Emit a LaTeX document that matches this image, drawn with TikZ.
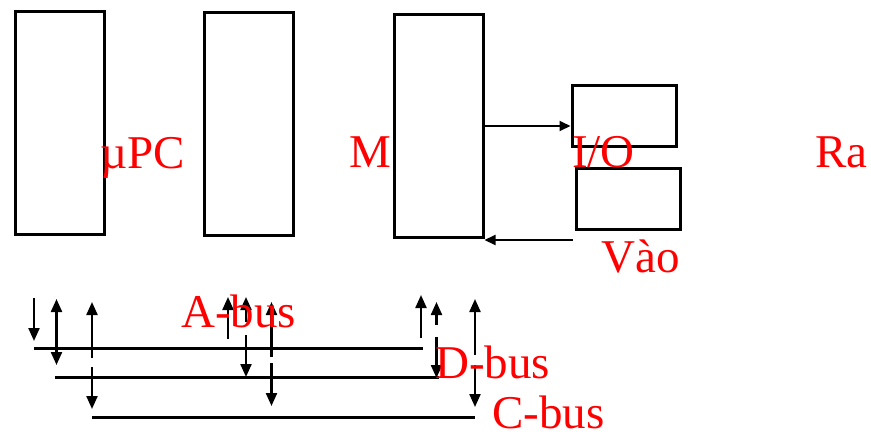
\documentclass[tikz,border=0pt]{standalone}
\usepackage{fontspec}
\setmainfont{Liberation Serif}
\usetikzlibrary{arrows.meta}
\begin{document}
\begin{tikzpicture}[x=1pt,y=-1pt,
  box/.style={draw=black,line width=3pt,inner sep=0pt,minimum width=89pt,minimum height=223pt},
  smallbox/.style={draw=black,line width=3pt,inner sep=0pt,minimum width=104pt,minimum height=61pt},
  bus/.style={line width=3pt},
  vtip/.tip={Triangle[length=13pt,width=11pt]},
  varrow/.style={line width=2.2pt,-vtip},
  harrow/.style={line width=2pt,-{Triangle[length=11pt,width=10pt]}},
  lbl/.style={text=red,font=\fontsize{47}{50}\selectfont,anchor=base west,inner sep=0pt}]
\useasboundingbox (0,0) rectangle (871,434);
% boxes
\node[box] (cpu) at (59.5,122.5) {};
\node[box] (mem) at (248.5,123.5) {};
\node[box] (mm) at (438.5,125.5) {};
\node[smallbox] (iot) at (624,115.5) {};
\node[smallbox] (iob) at (628,198.5) {};
% horizontal arrows
\draw[harrow] (mm.east |- 0,126) -- (iot.west |- 0,126);
\coordinate (vin) at (573,240);
\draw[harrow] (vin) -- (mm.east |- vin);
% buses
\coordinate (Aw) at (34,348); \coordinate (Ae) at (423,348);
\coordinate (Dw) at (55,377); \coordinate (De) at (439,377);
\coordinate (Cw) at (92,417); \coordinate (Ce) at (475,417);
\draw[bus] (Aw) -- (Ae);
\draw[bus] (Dw) -- (De);
\draw[bus] (Cw) -- (Ce);
% A-bus arrows
\draw[varrow] (34,298) -- (34,341);
\draw[varrow] (228,339) -- (228,297);
\draw[varrow] (421,338) -- (421,295);
% D-bus arrows
\draw[line width=2.2pt,vtip-vtip] (56.5,299) -- (56.5,365);
\draw[varrow] (246,322) -- (246,297);
\draw[varrow] (246,335) -- (246,377);
\draw[varrow] (436.5,325) -- (436.5,302);
\draw[varrow] (436.5,337) -- (436.5,378);
% C-bus arrows
\draw[varrow] (92,358) -- (92,302);
\draw[varrow] (92,367) -- (92,409);
\draw[varrow] (271.5,357) -- (271.5,302);
\draw[varrow] (271.5,363) -- (271.5,406);
\draw[varrow] (475,355) -- (475,299);
\draw[varrow] (475,365) -- (475,407);
% labels
\node[lbl] (tcpu) at (100,168) {µPC};
\node[lbl] (tm) at (349,167) {M};
\node[lbl] (tio) at (572,167) {I/O};
\node[lbl] (tra) at (815,167) {Ra};
\node[lbl] (tvao) at (601,272) {Vào};
\node[lbl] (tab) at (181,327) {A-bus};
\node[lbl] (tdb) at (435,378) {D-bus};
\node[lbl] (tcb) at (492,428) {C-bus};
\end{tikzpicture}
\end{document}
